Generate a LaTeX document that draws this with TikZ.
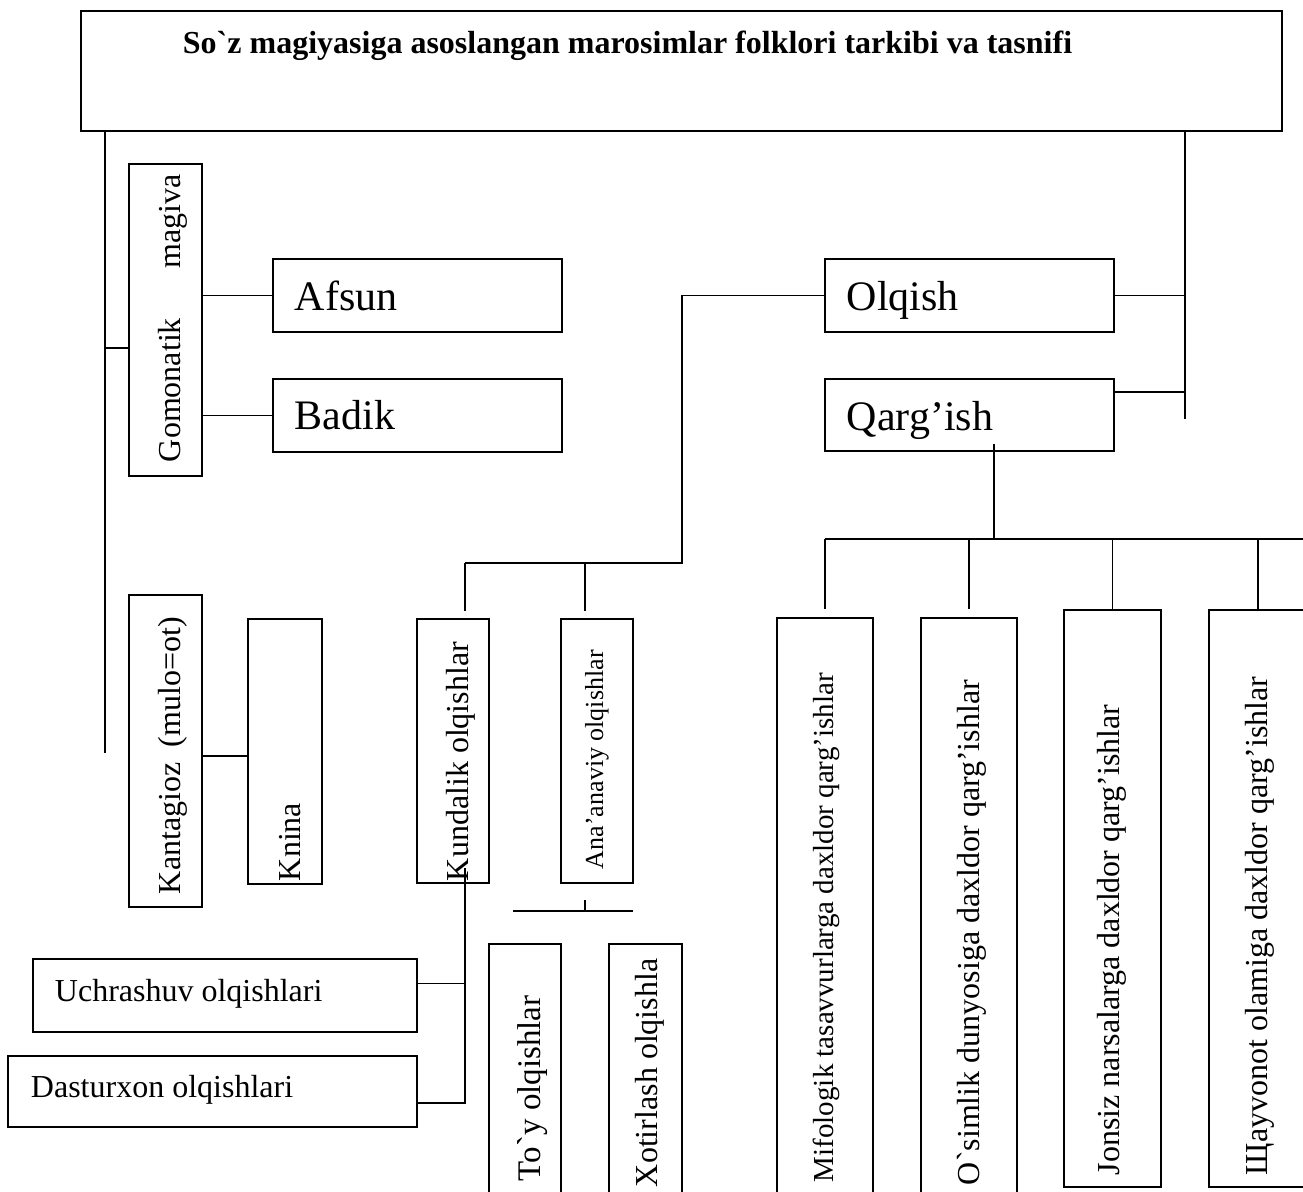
\documentclass[tikz,border=0pt]{standalone}
\usepackage{fontspec}
\setmainfont{Liberation Serif}[Ligatures=TeXOff]
\begin{document}
\begin{tikzpicture}[x=1pt,y=-1pt,line width=1.9pt,
  bx/.style={draw,line width=1.9pt,inner sep=0pt,outer sep=0pt},
  lbl/.style={inner sep=0pt,anchor=base west},
  vlbl/.style={inner sep=0pt,anchor=base west,rotate=90},
  fbig/.style={font=\fontsize{42}{50}\selectfont},
  fmid/.style={font=\fontsize{32}{38}\selectfont},
  ftoy/.style={font=\fontsize{33}{39}\selectfont},
  fmif/.style={font=\fontsize{29}{35}\selectfont},
  fsmall/.style={font=\fontsize{26}{31}\selectfont},
  ftitle/.style={font=\bfseries\fontsize{32}{38}\selectfont}]
\fill[white] (0,0) rectangle (1303,1191);
\useasboundingbox (0,0) rectangle (1303,1191);

% boxes
\node[bx,minimum width=1201pt,minimum height=120pt] (title) at (681.5,71) {};
\node[bx,minimum width=73pt,minimum height=312pt] (gom) at (165.5,320) {};
\node[bx,minimum width=289pt,minimum height=73pt] (afsun) at (417.5,295.5) {};
\node[bx,minimum width=289pt,minimum height=73pt] (badik) at (417.5,415.5) {};
\node[bx,minimum width=289pt,minimum height=73pt] (olq) at (969.5,295.5) {};
\node[bx,minimum width=289pt,minimum height=72pt] (qarg) at (969.5,415) {};
\node[bx,minimum width=73pt,minimum height=312pt] (kant) at (165.5,751) {};
\node[bx,minimum width=74pt,minimum height=265pt] (knina) at (285,751.5) {};
\node[bx,minimum width=72pt,minimum height=264pt] (kund) at (453,751) {};
\node[bx,minimum width=72pt,minimum height=264pt] (ana) at (597,751) {};
\node[bx,minimum width=384pt,minimum height=73pt] (uch) at (225,995.5) {};
\node[bx,minimum width=409pt,minimum height=71pt] (dast) at (212.5,1091.5) {};
\node[bx,minimum width=72pt,minimum height=256pt] (toy) at (525,1072) {};
\node[bx,minimum width=73pt,minimum height=256pt] (xot) at (645.5,1072) {};
\node[bx,minimum width=96pt,minimum height=582pt] (mif) at (825,909) {};
\node[bx,minimum width=96pt,minimum height=582pt] (osim) at (969,909) {};
\node[bx,minimum width=97pt,minimum height=577pt] (jons) at (1112.5,898.5) {};
\node[bx,minimum width=98pt,minimum height=577pt] (shay) at (1258,898.5) {};

% texts
\node[lbl,ftitle] (ttitle) at (182,53) {So`z magiyasiga asoslangan marosimlar folklori tarkibi va tasnifi};
\node[lbl,fbig] (tafsun) at (294,310) {Afsun};
\node[lbl,fbig] (tbadik) at (294,429) {Badik};
\node[lbl,fbig] (tolq) at (846,310) {Olqish};
\node[lbl,fbig] (tqarg) at (846,430) {Qarg’ish};
\node[lbl,fmid] (tuch) at (54,1001) {Uchrashuv olqishlari};
\node[lbl,fmid] (tdast) at (30,1097) {Dasturxon olqishlari};
\node[vlbl,fmid] (tgom) at (180,463) {\makebox[288pt][s]{Gomonatik\hfill magiva}};
\node[vlbl,fmid] (tkant) at (180,895) {\makebox[277pt][s]{Kantagioz\hfill(mulo=ot)}};
\node[vlbl,fmid] (tknina) at (300,882) {Knina};
\node[vlbl,fmid] (tkund) at (468,882) {Kundalik olqishlar};
\node[vlbl,fsmall] (tana) at (603,870) {Ana’anaviy olqishlar};
\node[vlbl,ftoy] (ttoy) at (540,1182) {To`y olqishlar};
\node[vlbl,fmid] (txot) at (657,1188) {Xotirlash olqishla};
\node[vlbl,fmif] (tmif) at (833,1183) {Mifologik tasavvurlarga daxldor qarg’ishlar};
\node[vlbl,fmid] (tosim) at (979,1186) {O`simlik dunyosiga daxldor qarg’ishlar};
\node[vlbl,fmid] (tjons) at (1119,1176) {Jonsiz narsalarga daxldor qarg’ishlar};
\node[vlbl,fmid] (tshay) at (1267,1176) {Щayvonot olamiga daxldor qarg’ishlar};

% coordinates
\coordinate (lend) at (105,753);
\coordinate (g1) at (105,348);
\coordinate (rend) at (1185,419);
\coordinate (ob) at (682,563);
\coordinate (kh) at (465,563);
\coordinate (ah) at (585,563);
\coordinate (ks) at (465,1103);
\coordinate (at) at (585,911);
\coordinate (bl) at (513,911);
\coordinate (br) at (633,911);
\coordinate (qs) at (994,539);
\coordinate (qe) at (1305,539);

% connectors
\draw (title.south -| lend) -- (lend);
\draw (g1) -- (g1 -| gom.west);
\draw (gom.east |- afsun.west) -- (afsun.west);
\draw (gom.east |- badik.west) -- (badik.west);
\draw (title.south -| rend) -- (rend);
\draw (olq.east) -- (olq.east -| rend);
\draw ([yshift=23pt]qarg.east) -- ([yshift=23pt]qarg.east -| rend);
\draw (olq.west) -| (ob) -- (kh);
\draw[shorten >=8pt] (kh) -- (kh |- kund.north);
\draw[shorten >=8pt] (ah) -- (ah |- ana.north);
\draw[shorten <=-15pt] (kund.south -| ks) -- (ks) -- (ks -| dast.east);
\draw ([yshift=12pt]uch.east) -- ([yshift=12pt]uch.east -| ks);
\draw[shorten <=17pt] (ana.south -| at) -- (at);
\draw (bl) -- (br);
\draw ([yshift=-5pt]kant.east) -- ([yshift=-5pt]kant.east -| knina.west);
\draw[shorten <=-7pt] (qarg.south -| qs) -- (qs);
\draw (mif.north |- qs) -- (qe);
\draw[shorten >=9pt] (mif.north |- qs) -- (mif.north);
\draw[shorten >=9pt] (osim.north |- qs) -- (osim.north);
\draw[shorten >=1pt] (jons.north |- qs) -- (jons.north);
\draw[shorten >=1pt] (shay.north |- qs) -- (shay.north);
\end{tikzpicture}
\end{document}
